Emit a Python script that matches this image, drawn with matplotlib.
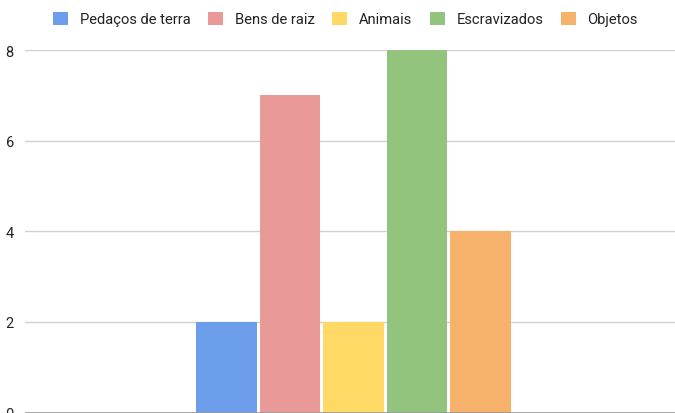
import matplotlib.pyplot as plt
import numpy as np

plt.rcParams['font.family'] = ['Roboto', 'DejaVu Sans']

series = ['Pedaços de terra', 'Bens de raiz', 'Animais', 'Escravizados', 'Objetos']
values = [2, 7, 2, 8, 4]
colors = ['#6d9eeb', '#ea9999', '#ffd966', '#93c47d', '#f6b26b']
yticks = [0, 2, 4, 6, 8]

fig = plt.figure(figsize=(6.75, 4.14), dpi=100)
ax = fig.add_axes([0.037, 0.001, 0.963, 0.8757])

pos = np.arange(len(series))
for p, v, c, name in zip(pos, values, colors, series):
    ax.bar(p, v, width=0.953, color=c, label=name, zorder=3)

ax.set_xlim(-3.165, 7.055)
ax.set_ylim(0, 8)
ax.set_yticks(yticks)
ax.set_xticks([])
ax.grid(axis='y', color='#d0d0d0', linewidth=1, zorder=0)
ax.axhline(0, color='#999999', linewidth=1.2, zorder=4)
for s in ax.spines.values():
    s.set_visible(False)
ax.tick_params(axis='y', length=0, pad=8, labelsize=10.5, labelcolor='#222222')

leg = fig.legend(loc='center', bbox_to_anchor=(0.512, 0.952), ncol=5, frameon=False,
                 fontsize=10.6, handlelength=1.0, handleheight=1.0, columnspacing=1.2,
                 handletextpad=0.8)
for t in leg.get_texts():
    t.set_color('#222222')

fig.savefig('out.png', dpi=100)
